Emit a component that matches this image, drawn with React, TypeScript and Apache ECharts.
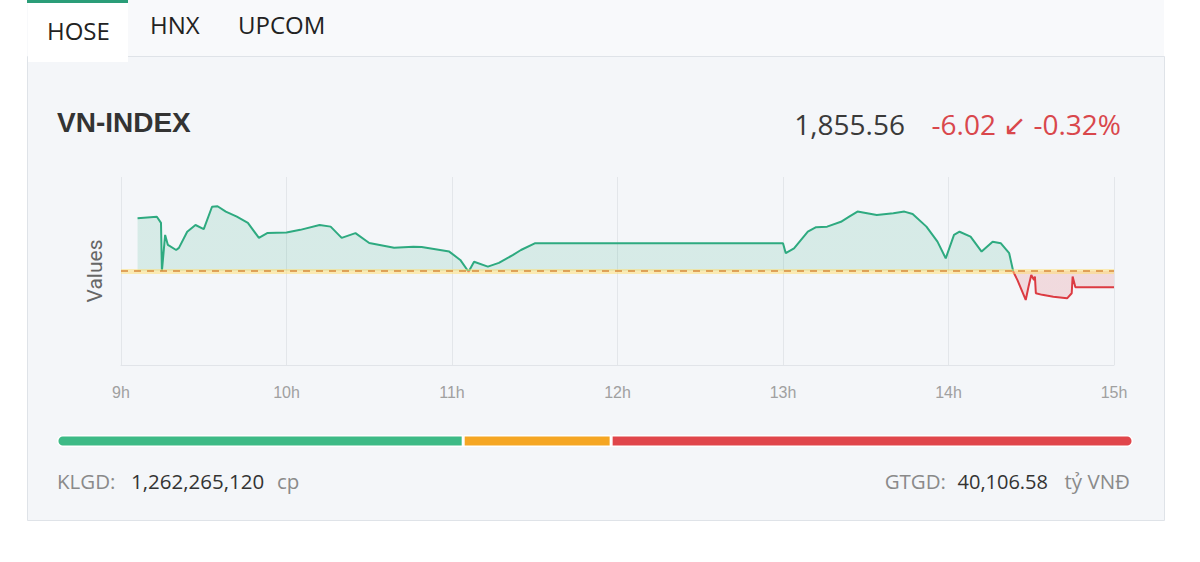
import React, { useEffect, useRef } from "react";
import * as echarts from "echarts";

// ---- Data ----
const tabs = ["HOSE", "HNX", "UPCOM"];
const indexName = "VN-INDEX";
const lastPriceText = "1,855.56";
const changeText = "-6.02 ↙ -0.32%";
const refPrice = 1861.58;
const yHalfRange = 35;

const times = [
  "09:06:00", "09:13:00", "09:14:30", "09:14:50", "09:16:00", "09:17:00", "09:20:00", "09:21:00",
  "09:24:00", "09:27:00", "09:30:00", "09:33:00", "09:35:00", "09:38:00", "09:42:00", "09:46:00",
  "09:50:00", "09:53:00", "10:00:00", "10:05:00", "10:12:00", "10:16:00", "10:20:00", "10:25:00",
  "10:30:00", "10:39:00", "10:46:00", "10:49:00", "10:59:00", "11:03:00", "11:06:00", "11:08:00",
  "11:13:00", "11:17:00", "11:22:00", "11:25:00", "11:30:00", "13:00:00", "13:01:00", "13:04:00",
  "13:09:00", "13:12:00", "13:16:00", "13:21:00", "13:24:00", "13:27:00", "13:34:00", "13:40:00",
  "13:44:00", "13:47:00", "13:52:00", "13:56:00", "13:59:00", "14:02:00", "14:04:00", "14:08:00",
  "14:12:00", "14:16:00", "14:19:00", "14:22:00", "14:23:30", "14:25:00", "14:28:00", "14:29:00",
  "14:30:00", "14:31:00", "14:31:20", "14:31:40", "14:34:00", "14:38:00", "14:43:00", "14:44:40",
  "14:45:00", "14:46:00", "15:00:00",
];
const prices = [
  1881.2, 1881.8, 1879.5, 1861.6, 1875.0, 1871.3, 1869.4, 1870.2,
  1876.2, 1878.7, 1877.2, 1885.5, 1885.7, 1883.7, 1881.8, 1879.5,
  1873.9, 1875.7, 1875.9, 1876.9, 1878.7, 1878.1, 1873.9, 1875.7,
  1872.0, 1870.2, 1870.6, 1870.5, 1868.8, 1865.7, 1861.3, 1865.0,
  1863.2, 1864.6, 1867.5, 1869.4, 1871.9, 1871.9, 1868.2, 1870.0,
  1876.2, 1877.9, 1878.1, 1879.9, 1881.8, 1883.7, 1882.4, 1883.1,
  1883.7, 1882.8, 1878.1, 1872.5, 1866.3, 1875.0, 1876.2, 1874.4,
  1868.8, 1872.5, 1871.9, 1868.2, 1861.3, 1858.2, 1850.8, 1855.7,
  1860.1, 1858.2, 1859.5, 1853.3, 1852.7, 1852.0, 1851.4, 1853.3,
  1859.5, 1855.56, 1855.56,
];

const hourMin = 9;
const hourMax = 15;

const breadthNames = ["Tăng", "Đứng giá", "Giảm"];
const breadthValues = [151, 55, 194];

const klgdLabel = "KLGD:";
const klgdValue = "1,262,265,120";
const klgdUnit = "cp";
const gtgdLabel = "GTGD:";
const gtgdValue = "40,106.58";
const gtgdUnit = "tỷ VNĐ";

// ---- Styles ----
const GREEN = "#2eaa80";
const RED = "#dc3b42";
const ORANGE = "#f5a623";
const BAR_GREEN = "#3dba86";
const BAR_RED = "#e0464b";

function toHours(t: string): number {
  const [h, m, s] = t.split(":").map(Number);
  return h + m / 60 + (s || 0) / 3600;
}

export default function App() {
  const ref = useRef<HTMLDivElement>(null);

  useEffect(() => {
    if (!ref.current) return;
    const chart = echarts.init(ref.current, undefined, { renderer: "svg" });
    const lineData = times.map((t, i) => [toHours(t), prices[i]]);
    const total = breadthValues.reduce((a, b) => a + b, 0);
    const barColors = [BAR_GREEN, ORANGE, BAR_RED];
    const radii = [
      [5, 0, 0, 5],
      [0, 0, 0, 0],
      [0, 5, 5, 0],
    ];

    const font = "'Open Sans', 'Noto Sans', sans-serif";

    chart.setOption({
      animation: false,
      backgroundColor: "#ffffff",
      graphic: [
        // tab strip
        { type: "rect", z: 0, shape: { x: 27, y: 0, width: 1137, height: 56 }, style: { fill: "#f8f9fb" } },
        // card
        {
          type: "rect",
          z: 0,
          shape: { x: 27.5, y: 56.5, width: 1137, height: 464 },
          style: { fill: "#f4f6f9", stroke: "#dfe3e8", lineWidth: 1 },
        },
        // active tab
        { type: "rect", z: 1, shape: { x: 28, y: 0, width: 100, height: 62 }, style: { fill: "#ffffff" } },
        { type: "rect", z: 1, shape: { x: 27, y: 0, width: 101, height: 3 }, style: { fill: "#2a9d78" } },
        {
          type: "text", z: 10, x: 47, y: 30,
          style: { text: tabs[0], font: `24px ${font}`, fill: "#222", textVerticalAlign: "middle" },
        },
        {
          type: "text", z: 10, x: 150, y: 24,
          style: { text: tabs[1], font: `24px ${font}`, fill: "#222", textVerticalAlign: "middle" },
        },
        {
          type: "text", z: 10, x: 238, y: 24,
          style: { text: tabs[2], font: `24px ${font}`, fill: "#222", textVerticalAlign: "middle" },
        },
        // header
        {
          type: "text", z: 10, x: 57, y: 122,
          style: {
            text: indexName,
            font: "bold 28px 'Liberation Sans', Arial, sans-serif",
            fill: "#333",
            textVerticalAlign: "middle",
          },
        },
        {
          type: "text", z: 10, x: 905, y: 124,
          style: {
            text: lastPriceText,
            font: `28px ${font}`,
            fill: "#3a3a3a",
            textAlign: "right",
            textVerticalAlign: "middle",
          },
        },
        {
          type: "text", z: 10, x: 1121, y: 124,
          style: {
            text: changeText,
            font: `28px ${font}`,
            fill: "#d9474c",
            textAlign: "right",
            textVerticalAlign: "middle",
          },
        },
        // footer
        {
          type: "text", z: 10, x: 57, y: 481,
          style: { text: klgdLabel, font: `20.5px ${font}`, fill: "#8a8a8a", textVerticalAlign: "middle" },
        },
        {
          type: "text", z: 10, x: 131, y: 481,
          style: { text: klgdValue, font: `20.5px ${font}`, fill: "#333", textVerticalAlign: "middle" },
        },
        {
          type: "text", z: 10, x: 277, y: 481,
          style: { text: klgdUnit, font: `20.5px ${font}`, fill: "#8a8a8a", textVerticalAlign: "middle" },
        },
        {
          type: "text", z: 10, x: 946, y: 481,
          style: {
            text: gtgdLabel, font: `20.5px ${font}`, fill: "#8a8a8a",
            textAlign: "right", textVerticalAlign: "middle",
          },
        },
        {
          type: "text", z: 10, x: 1048, y: 481,
          style: {
            text: gtgdValue, font: `20px ${font}`, fill: "#333",
            textAlign: "right", textVerticalAlign: "middle",
          },
        },
        {
          type: "text", z: 10, x: 1130, y: 481,
          style: {
            text: gtgdUnit, font: `20.5px ${font}`, fill: "#8a8a8a",
            textAlign: "right", textVerticalAlign: "middle",
          },
        },
      ],
      grid: [
        { left: 121, top: 177, width: 993, height: 188 },
        { left: 57, top: 435, width: 1076, height: 12 },
      ],
      xAxis: [
        {
          gridIndex: 0,
          type: "value",
          min: hourMin,
          max: hourMax,
          interval: 1,
          axisLine: { show: true, lineStyle: { color: "#e1e4e9" } },
          axisTick: { show: false },
          axisLabel: {
            formatter: (v: number) => `${v}h`,
            color: "#a0a0a0",
            fontSize: 16,
            fontFamily: "'Liberation Sans', Arial, sans-serif",
            margin: 19,
          },
          splitLine: { show: true, lineStyle: { color: "#e3e6ea", width: 1 } },
        },
        { gridIndex: 1, type: "value", min: 0, max: total, show: false },
      ],
      yAxis: [
        {
          gridIndex: 0,
          type: "value",
          min: refPrice - yHalfRange,
          max: refPrice + yHalfRange,
          name: "Values",
          nameLocation: "middle",
          nameGap: 16,
          nameTextStyle: { color: "#666", fontSize: 21, fontFamily: "Roboto, 'Liberation Sans', sans-serif" },
          axisLine: { show: false },
          axisTick: { show: false },
          axisLabel: { show: false },
          splitLine: { show: false },
        },
        { gridIndex: 1, type: "category", data: ["breadth"], show: false },
      ],
      visualMap: {
        type: "piecewise",
        show: false,
        seriesIndex: 0,
        dimension: 1,
        pieces: [
          { gt: refPrice, lte: refPrice + 10 * yHalfRange, color: GREEN },
          { gt: refPrice - 10 * yHalfRange, lte: refPrice, color: RED },
        ],
      },
      series: [
        {
          type: "line",
          xAxisIndex: 0,
          yAxisIndex: 0,
          data: lineData,
          showSymbol: false,
          symbol: "none",
          lineStyle: { width: 2 },
          areaStyle: { origin: refPrice, opacity: 0.15 },
          z: 3,
          markLine: {
            silent: true,
            symbol: ["none", "none"],
            label: { show: false },
            data: [
              { yAxis: refPrice, lineStyle: { color: "rgba(255,222,110,0.5)", width: 5, type: "solid" } },
              { yAxis: refPrice, lineStyle: { color: "#d88a3c", width: 1.5, type: [7, 6] } },
            ],
          },
        },
        ...breadthValues.map((v, i) => ({
          type: "bar",
          name: breadthNames[i],
          xAxisIndex: 1,
          yAxisIndex: 1,
          stack: "breadth",
          data: [v],
          barWidth: 12,
          itemStyle: {
            color: barColors[i],
            borderColor: "#ffffff",
            borderWidth: 1.5,
            borderRadius: radii[i],
          },
          silent: true,
        })),
      ],
    });
    return () => chart.dispose();
  }, []);

  return (
    <div
      ref={ref}
      style={{ position: "absolute", left: 0, top: 0, width: 1200, height: 562 }}
    />
  );
}
